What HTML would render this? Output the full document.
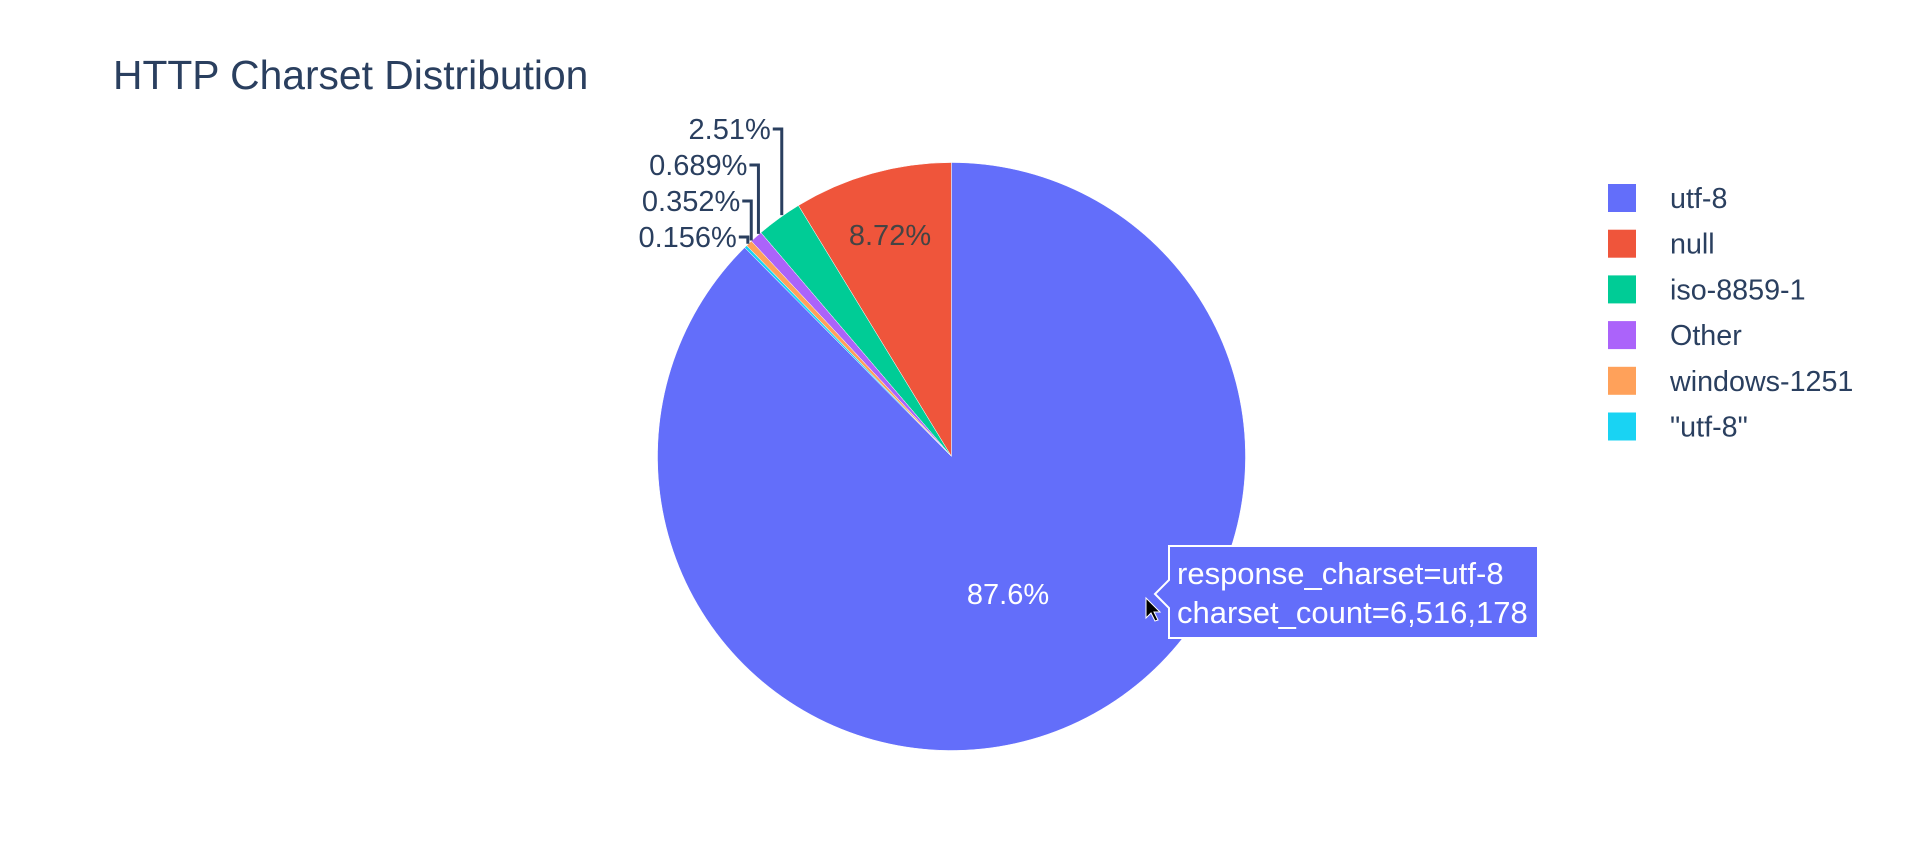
<!DOCTYPE html>
<html><head><meta charset="utf-8"><style>
body{margin:0;background:#fff;}
svg{display:block;font-family:"Liberation Sans",Arial,sans-serif;}
</style></head><body>
<svg id="chart" width="1920" height="855">
<text x="113" y="89" font-size="40.8" fill="#2a3f5f">HTTP Charset Distribution</text>
<g id="slices"></g>
<g id="labels"></g>
<g id="legend"></g>
<g>
<path d="M1169,546 H1538 V638 H1169 V608 L1155,594 L1169,580 Z" fill="#636efa" stroke="#fff" stroke-width="2"/>
<text x="1177" y="584" font-size="31" fill="#fff">response_charset=utf-8</text>
<text x="1177" y="623" font-size="31" fill="#fff">charset_count=6,516,178</text>
</g>
<path d="M1146,598 L1146,618 L1151,613 L1155,621 L1158,620 L1154,612 L1160,612 Z" fill="#000" stroke="#fff" stroke-width="1"/>
</svg>
<script>
const categories=["utf-8","null","iso-8859-1","Other","windows-1251","\"utf-8\""];
const values=[87.6,8.72,2.51,0.689,0.352,0.156];
const labels=["87.6%","8.72%","2.51%","0.689%","0.352%","0.156%"];
const colors=["#636efa","#ef553b","#00cc96","#ab63fa","#ffa15a","#19d3f3"];
const NS="http://www.w3.org/2000/svg";
const cx=951.5,cy=456.5,R=294;
function mk(t,a,p){const e=document.createElementNS(NS,t);for(const k in a)e.setAttribute(k,a[k]);p.appendChild(e);return e;}
function pt(angDeg,r){const a=(angDeg-90)*Math.PI/180;return [cx+r*Math.cos(a),cy+r*Math.sin(a)];}
const total=values.reduce((a,b)=>a+b,0);
const gS=document.getElementById('slices'),gL=document.getElementById('labels'),gG=document.getElementById('legend');
const order=[1,2,3,4,5,0];
const outsideY=[129,165,201,237];
let oi=0;
let start=0;
order.forEach(i=>{
  const v=values[i];
  const sweep=v/total*360,end=start-sweep;
  const p0=pt(end,R),p1=pt(start,R);
  const path=mk('path',{d:`M${cx},${cy} L${p0[0]},${p0[1]} A${R},${R} 0 ${sweep>180?1:0} 1 ${p1[0]},${p1[1]} Z`,fill:colors[i],stroke:'#fff','stroke-width':0.5},gS);
  
  
  const mid=start-sweep/2;
  if(v>5){
    const p=i===0?[1008,594]:[890,235];
    const t=mk('text',{x:p[0],y:p[1]+10,'font-size':'29','text-anchor':'middle',fill:i===0?'#fff':'#444'},gL);
    t.textContent=labels[i];
    
    
  } else {
    const e=pt(mid,R+4);const ex=e[0]+5;const ly=outsideY[oi++];
    const ln=mk('path',{d:`M${ex},${e[1]} V${ly} h-9`,fill:'none',stroke:'#2a3f5f','stroke-width':3},gL);
    
    
    const t=mk('text',{x:ex-11,y:ly+10,'font-size':'29','text-anchor':'end',fill:'#2a3f5f'},gL);
    t.textContent=labels[i];
    
    
  }
  start=end;
});
categories.forEach((c,i)=>{
  const ly=184+i*45.7;
  const r=mk('rect',{x:1608,y:ly,width:28,height:28,fill:colors[i]},gG);
  
  
  const lt=mk('text',{x:1670,y:ly+24,'font-size':'28.7',fill:'#2a3f5f'},gG);
  lt.textContent=c;
  
  
});
</script>
</body></html>
